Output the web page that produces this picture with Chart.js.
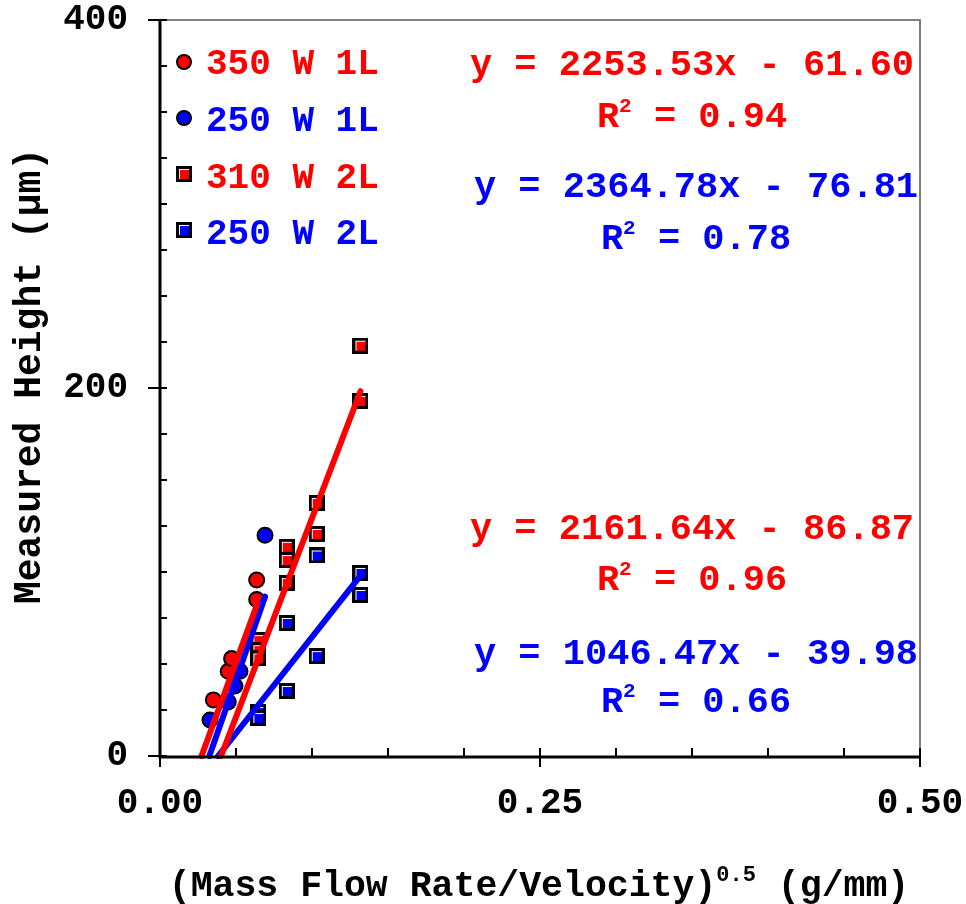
<!DOCTYPE html>
<html><head><meta charset="utf-8">
<script src="https://cdn.jsdelivr.net/npm/chart.js@4.4.0/dist/chart.umd.min.js"></script>
<style>html,body{margin:0;padding:0;background:#fff;}canvas{display:block;}</style>
</head><body>
<canvas id="c" width="966" height="904"></canvas>
<script>
const FONT = '"Liberation Mono", "Courier New", monospace';

// ---- data ----
const seriesLabels = ['350 W 1L', '250 W 1L', '310 W 2L', '250 W 2L'];
const seriesColors = ['#ff0000', '#0000ff', '#ff0000', '#0000ff'];
const seriesShapes = ['circle', 'circle', 'square', 'square'];

const x350W1L = [0.0351, 0.0449, 0.0471, 0.0636, 0.0636];
const y350W1L = [30.5, 46, 53, 85, 95.6];

const x250W1L = [0.0329, 0.0449, 0.0493, 0.0526, 0.0691];
const y250W1L = [19.6, 29.4, 38, 46, 120];

const x310W2L = [0.0647, 0.0647, 0.0647, 0.0834, 0.0834, 0.0834, 0.1031, 0.1031, 0.1319, 0.1319];
const y310W2L = [63, 57.5, 53, 113.7, 106.5, 94, 137.5, 120.7, 223, 193];

const x250W2L = [0.0647, 0.0647, 0.0834, 0.0834, 0.1031, 0.1031, 0.1319, 0.1319];
const y250W2L = [23.9, 20.7, 72.3, 35.3, 109, 54.3, 99.5, 87.5];

// linear fits (as printed on the chart)
const fitSlopes = [2253.53, 2364.78, 2161.64, 1046.47];
const fitIntercepts = [-61.60, -76.81, -86.87, -39.98];
const fitR2 = ['0.94', '0.78', '0.96', '0.66'];
const fitXEnd = [0.0636, 0.0691, 0.1319, 0.1319];

const xTickLabels = ['0.00', '0.25', '0.50'];
const yTickLabels = ['0', '200', '400'];
const xMinorStep = 0.05, yMinorStep = 25;
const xTitleMain = '(Mass Flow Rate/Velocity)', xTitleSup = '0.5', xTitleTail = ' (g/mm)';
const yTitle = 'Measured Height (\u00b5m)';

// ---- helpers ----
function makeSquare(color) {
  const c = document.createElement('canvas');
  c.width = 16; c.height = 16;
  const g = c.getContext('2d');
  g.fillStyle = '#000'; g.fillRect(0, 0, 16, 16);
  g.fillStyle = '#fff'; g.fillRect(3, 3, 10, 10);
  g.fillStyle = color; g.fillRect(4, 4, 9, 9);
  return c;
}
const xs = [x350W1L, x250W1L, x310W2L, x250W2L];
const ys = [y350W1L, y250W1L, y310W2L, y250W2L];

const datasets = [];
seriesLabels.forEach((lab, i) => {
  const m = fitSlopes[i], b = fitIntercepts[i];
  const x0 = -b / m, x1 = fitXEnd[i];
  datasets.push({
    type: 'line', label: lab + ' fit', order: 0,
    data: [{x: x0, y: 0}, {x: x1, y: m * x1 + b}],
    borderColor: seriesColors[i], borderWidth: 6, pointRadius: 0, showLine: true,
    borderCapStyle: 'round', fill: false, clip: 3
  });
});
seriesLabels.forEach((lab, i) => {
  const sq = seriesShapes[i] === 'square' ? makeSquare(seriesColors[i]) : 'circle';
  datasets.push({
    type: 'scatter', label: lab, order: 1,
    data: xs[i].map((v, k) => ({x: v, y: ys[i][k]})),
    pointStyle: sq, pointRadius: 7.5, backgroundColor: seriesColors[i],
    borderColor: '#000', borderWidth: 2, _shape: seriesShapes[i]
  });
});

function drawRich(ctx, parts, cx, cy, color, size, supRatio) {
  const sr = supRatio || 0.58;
  let total = 0; const w = [];
  parts.forEach(([t, sup]) => {
    ctx.font = `bold ${sup ? Math.round(size * sr) : size}px ${FONT}`;
    const m = ctx.measureText(t).width; w.push(m); total += m;
  });
  let xx = cx - total / 2;
  ctx.fillStyle = color; ctx.textAlign = 'left'; ctx.textBaseline = 'alphabetic';
  parts.forEach(([t, sup], i) => {
    ctx.font = `bold ${sup ? Math.round(size * sr) : size}px ${FONT}`;
    ctx.fillText(t, xx, sup ? cy + size * 0.33 - size * 0.42 : cy + size * 0.33);
    xx += w[i];
  });
}

function noPad(s) { s.paddingTop = 0; s.paddingBottom = 0; s.paddingLeft = 0; s.paddingRight = 0; }

const decor = {
  id: 'decor',
  afterDatasetsDraw(chart) {
    const {ctx, chartArea: a, scales: {x, y}} = chart;
    ctx.save();
    ctx.strokeStyle = '#808080'; ctx.lineWidth = 2;
    ctx.beginPath(); ctx.moveTo(a.left, a.top); ctx.lineTo(a.right, a.top); ctx.lineTo(a.right, a.bottom); ctx.stroke();
    ctx.strokeStyle = '#000'; ctx.lineWidth = 3;
    ctx.beginPath(); ctx.moveTo(a.left, a.top - 1); ctx.lineTo(a.left, a.bottom + 1); ctx.lineTo(a.right, a.bottom + 1); ctx.stroke();
    ctx.lineWidth = 2;
    for (let v = 0; v <= 400 + 1e-6; v += yMinorStep) {
      const py = Math.round(y.getPixelForValue(v));
      const major = yTickLabels.includes(String(Math.round(v)));
      ctx.beginPath(); ctx.moveTo(a.left - (major ? 12 : 0), py); ctx.lineTo(a.left + 7, py); ctx.stroke();
    }
    for (let k = 0; k <= 10; k++) {
      const v = k * xMinorStep;
      const px = Math.round(x.getPixelForValue(v));
      const major = xTickLabels.includes(v.toFixed(2));
      ctx.beginPath(); ctx.moveTo(px, a.bottom - 8); ctx.lineTo(px, a.bottom + (major ? 11 : 0)); ctx.stroke();
    }
    ctx.restore();
  },
  afterDraw(chart) {
    const {ctx} = chart;
    ctx.save();
    const rows = [62, 118, 174, 230];
    const textRows = [62, 119, 176, 232];
    chart.data.datasets.filter(d => d.type === 'scatter').forEach((d, i) => {
      if (d._shape === 'circle') {
        ctx.beginPath(); ctx.arc(184, rows[i], 7, 0, Math.PI * 2);
        ctx.fillStyle = d.backgroundColor; ctx.fill();
        ctx.lineWidth = 2; ctx.strokeStyle = '#000'; ctx.stroke();
      } else {
        ctx.drawImage(d.pointStyle, 184 - 8, rows[i] - 8);
      }
      ctx.font = `bold 36px ${FONT}`; ctx.fillStyle = seriesColors[i];
      ctx.textAlign = 'left'; ctx.textBaseline = 'alphabetic';
      ctx.fillText(d.label, 206, textRows[i] + 12);
    });
    const eqPos = [[692, 63, 115], [696, 185, 237], [692, 527, 578], [696, 652, 700]];
    seriesLabels.forEach((lab, i) => {
      const m = fitSlopes[i], b = fitIntercepts[i];
      const eq = `y = ${m.toFixed(2)}x ${b < 0 ? '-' : '+'} ${Math.abs(b).toFixed(2)}`;
      const [cx, y1, y2] = eqPos[i];
      drawRich(ctx, [[eq, false]], cx, y1, seriesColors[i], 37);
      drawRich(ctx, [['R', false], ['2', true], [' = ' + fitR2[i], false]], cx, y2, seriesColors[i], 37);
    });
    drawRich(ctx, [[xTitleMain, false], [xTitleSup, true], [xTitleTail, false]], 539, 884, '#000', 36.5, 0.6);
    ctx.translate(27, 376); ctx.rotate(-Math.PI / 2);
    drawRich(ctx, [[yTitle, false]], 0, 0, '#000', 38);
    ctx.restore();
  }
};

new Chart(document.getElementById('c'), {
  type: 'scatter',
  data: {datasets},
  options: {
    responsive: false, animation: false, devicePixelRatio: 1,
    layout: {padding: {top: 20, right: 46, left: 0, bottom: 0}},
    plugins: {legend: {display: false}, tooltip: {enabled: false}},
    scales: {
      x: {
        type: 'linear', min: 0, max: 0.5,
        ticks: {stepSize: 0.25, autoSkip: false, maxRotation: 0, padding: 26, color: '#000',
          font: {family: FONT, size: 36, weight: 'bold'},
          callback: (v) => xTickLabels.find(t => Math.abs(parseFloat(t) - v) < 1e-9) || ''},
        grid: {display: false, drawTicks: false}, border: {display: false},
        afterFit(s) { s.height = 148; noPad(s); }
      },
      y: {
        type: 'linear', min: 0, max: 400,
        ticks: {stepSize: 200, autoSkip: false, padding: 32, color: '#000',
          font: {family: FONT, size: 36, weight: 'bold'},
          callback: (v) => yTickLabels.find(t => parseFloat(t) === v) || ''},
        grid: {display: false, drawTicks: false}, border: {display: false},
        afterFit(s) { s.width = 160; noPad(s); }
      }
    }
  },
  plugins: [decor]
});
</script>
</body></html>
